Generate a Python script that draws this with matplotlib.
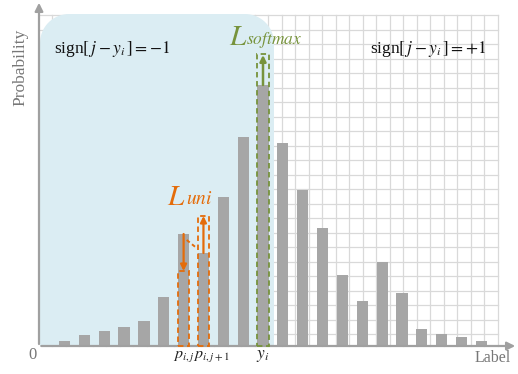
import matplotlib
matplotlib.use("Agg")
import matplotlib.pyplot as plt
from matplotlib.patches import Polygon, Rectangle
import numpy as np

# ---- data ----
labels = list(range(1, 23))
probs = [0.005, 0.011, 0.015, 0.019, 0.025, 0.049, 0.112, 0.093, 0.149, 0.209, 0.261,
         0.203, 0.156, 0.118, 0.071, 0.045, 0.084, 0.053, 0.017, 0.012, 0.009, 0.005]
idx_pj = 7          # p_{i,j}
idx_pj1 = 8         # p_{i,j+1}
idx_yi = 11         # y_i
pj_target = 0.075   # lowered p_{i,j}
pj1_target = 0.130  # raised p_{i,j+1}
yi_target = 0.292   # softmax target
tick_texts = {idx_pj: r"$p_{i,j}$", idx_pj1: r"$p_{i,j+1}$", idx_yi: r"$y_i$"}

# ---- pixel <-> data helpers (layout) ----
W, H = 518, 374
X0, DX = 64.5, 19.85          # pixel of label 1, pixels per label
BASE, SY = 346.0, 1000.0      # baseline pixel, pixels per probability unit
def xd(px): return (px - X0) / DX + 1
def yd(py): return (BASE - py) / SY
def wd(pw): return pw / DX

plt.rcParams['font.family'] = ['Liberation Serif', 'DejaVu Serif']
plt.rcParams['mathtext.fontset'] = 'stix'

fig = plt.figure(figsize=(W / 100, H / 100), dpi=100)
ax = fig.add_axes([0, 0, 1, 1])
ax.set_xlim(xd(0), xd(W))
ax.set_ylim(yd(H), yd(0))
ax.axis('off')

gridc = '#d9d9d9'
# grid
top_px = 15
for px in np.arange(497.7, 40, -13.5):
    ax.plot([xd(px), xd(px)], [yd(BASE), yd(top_px)], color=gridc, lw=0.9, zorder=1)
for py in np.arange(top_px, 340, 14.5):
    ax.plot([xd(40), xd(497.7)], [yd(py), yd(py)], color=gridc, lw=0.9, zorder=1)

# blue rounded region (rounded top corners), built in pixel space
blue = '#dbedf3'
left, right, top, r = 40, 274, 14, 29
pts = [(left, BASE)]
for a in np.linspace(np.pi, 1.5 * np.pi, 20):
    pts.append((left + r + r * np.cos(a), top + r + r * np.sin(a)))
for a in np.linspace(1.5 * np.pi, 2 * np.pi, 20):
    pts.append((right - r + r * np.cos(a), top + r + r * np.sin(a)))
pts.append((right, BASE))
ax.add_patch(Polygon([(xd(x), yd(y)) for x, y in pts], closed=True, fc=blue, ec='none', zorder=2))

# bars
ax.bar(labels, probs, width=wd(11.2), color='#a6a6a6', zorder=3)

# axes arrows
axc = '#a0a0a0'
ax.annotate('', xy=(xd(518), yd(BASE)), xytext=(xd(38.5), yd(BASE)),
            arrowprops=dict(arrowstyle='-|>', color=axc, lw=1.6, mutation_scale=12), zorder=5)
ax.annotate('', xy=(xd(39), yd(0)), xytext=(xd(39), yd(BASE + 0.8)),
            arrowprops=dict(arrowstyle='-|>', color=axc, lw=1.6, mutation_scale=12), zorder=5)

# orange L_uni
orange = '#e46c0a'
bw = wd(11.6)
ax.add_patch(Rectangle((idx_pj - bw / 2, 0), bw, pj_target, fill=False, ec=orange, ls=(0, (3, 2)), lw=1.3, zorder=6))
ax.add_patch(Rectangle((idx_pj1 - bw / 2, 0), bw, pj1_target, fill=False, ec=orange, ls=(0, (3, 2)), lw=1.3, zorder=6))
ax.annotate('', xy=(idx_pj, pj_target), xytext=(idx_pj, probs[idx_pj - 1]),
            arrowprops=dict(arrowstyle='-|>', color=orange, lw=1.6, mutation_scale=9, shrinkA=0, shrinkB=0), zorder=7)
ax.annotate('', xy=(idx_pj1, pj1_target), xytext=(idx_pj1, probs[idx_pj1 - 1]),
            arrowprops=dict(arrowstyle='-|>', color=orange, lw=1.6, mutation_scale=9, shrinkA=0, shrinkB=0), zorder=7)
ax.plot([xd(186.7), xd(195)], [yd(240), yd(246.7)], color=orange, lw=1.4, ls=(0, (2, 1.5)), zorder=7)
ax.text(xd(167), yd(205), r"$L$", color=orange, fontsize=21, ha='left', va='baseline', zorder=8)
ax.text(xd(186), yd(204), r"$uni$", color=orange, fontsize=14, ha='left', va='baseline', zorder=8)

# green L_softmax
green = '#77933c'
ax.add_patch(Rectangle((idx_yi - bw / 2, 0), bw, yi_target, fill=False, ec=green, ls=(0, (3, 2)), lw=1.3, zorder=6))
ax.annotate('', xy=(idx_yi, yi_target - 0.001), xytext=(idx_yi, probs[idx_yi - 1]),
            arrowprops=dict(arrowstyle='-|>', color=green, lw=1.8, mutation_scale=9, shrinkA=0, shrinkB=0), zorder=7)
ax.text(xd(229), yd(45), r"$L$", color=green, fontsize=21, ha='left', va='baseline', zorder=8)
ax.text(xd(246), yd(44), r"$softmax$", color=green, fontsize=12.5, ha='left', va='baseline', zorder=8)

# sign texts
ax.text(xd(54), yd(53), r"sign$[\,j-y_i\,]=-1$", fontsize=12.5, ha='left', va='baseline', color='#111111', zorder=8)
ax.text(xd(370), yd(53), r"sign$[\,j-y_i\,]=+1$", fontsize=12.5, ha='left', va='baseline', color='#111111', zorder=8)

# axis texts
gray = '#777777'
ax.text(xd(20), yd(67), "Probability", rotation=90, fontsize=12.5, color=gray, ha='center', va='center')
ax.text(xd(493), yd(358), "Label", fontsize=11.5, color=gray, ha='center', va='center')
ax.text(xd(33), yd(355), "0", fontsize=12, color=gray, ha='center', va='center')
ax.text(idx_pj, yd(356), tick_texts[idx_pj], fontsize=11.5, color='#222222', ha='center', va='center')
ax.text(xd(193), yd(356), tick_texts[idx_pj1], fontsize=11.5, color='#222222', ha='left', va='center')
ax.text(idx_yi, yd(356), tick_texts[idx_yi], fontsize=12.5, color='#222222', ha='center', va='center')

fig.savefig('out.png', dpi=100)
